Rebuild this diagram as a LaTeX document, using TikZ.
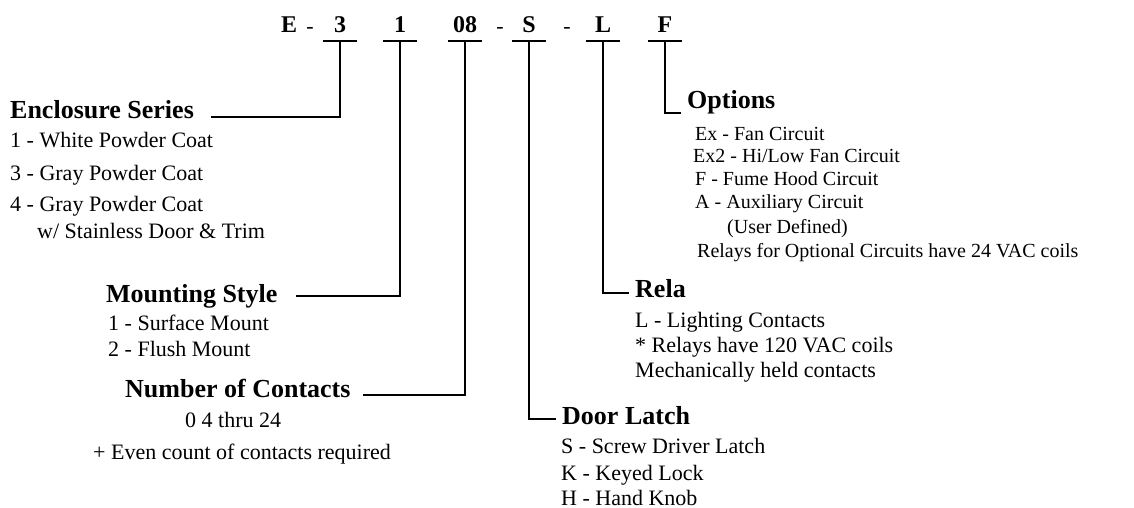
\documentclass[tikz,border=0pt]{standalone}
\usepackage{fontspec}
\setmainfont{Liberation Serif}
\usetikzlibrary{positioning}

\tikzset{
  code/.style={anchor=base, inner sep=0pt, font=\fontsize{24}{26}\selectfont\bfseries},
  dashchar/.style={anchor=base, inner sep=0pt, font=\fontsize{22}{24}\selectfont},
  head/.style={anchor=base west, inner sep=0pt, font=\fontsize{26}{28}\selectfont\bfseries},
  item/.style={anchor=base west, inner sep=0pt, font=\fontsize{22}{24}\selectfont},
  small/.style={anchor=base west, inner sep=0pt, font=\fontsize{20}{22}\selectfont},
  wire/.style={line width=2.6pt, line cap=rect}
}

\begin{document}
\begin{tikzpicture}[x=1pt, y=-1pt]
		\useasboundingbox (0,0) rectangle (1134,508);
		% part number
		\node[code] (cE) at (289, 33) {E};
		\node[dashchar] (d1) at (310, 34) {-};
		\node[code] (c3) at (340, 33) {3};
		\node[code] (c1) at (400, 33) {1};
		\node[code] (c08) at (465, 33) {08};
		\node[dashchar] (d2) at (500, 34) {-};
		\node[code] (cS) at (529, 33) {S};
		\node[dashchar] (d3) at (567, 34) {-};
		\node[code] (cL) at (603, 33) {L};
		\node[code] (cF) at (665, 33) {F};
		\foreach \c in {c3, c1, c08, cS, cL, cF} {
			\coordinate (\c-t) at ([yshift=-8pt]\c.base);
			\draw[wire] ([xshift=-16pt]\c-t) -- ([xshift=16pt]\c-t);
		}

		% enclosure series
		\node[head] (encl) at (10, 118) {Enclosure Series};
		\node[item] (encl1) at (10, 147) {1 - White Powder Coat};
		\node[item] (encl3) at (10, 180) {3 - Gray Powder Coat};
		\node[item] (encl4) at (10, 211) {4 - Gray Powder Coat};
		\node[item] (encl4b) at (37, 238) {w/ Stainless Door \& Trim};
		\draw[wire] (c3-t) |- ([xshift=18pt, yshift=1pt]encl.base east);

		% mounting style
		\node[head] (mount) at (106, 302) {Mounting Style};
		\node[item] (mount1) at (108, 330) {1 - Surface Mount};
		\node[item] (mount2) at (108, 356) {2 - Flush Mount};
		\draw[wire] (c1-t) |- ([xshift=20pt, yshift=6pt]mount.base east);

		% number of contacts
		\node[head] (num) at (125, 397) {Number of Contacts};
		\node[item] (num1) at (185, 427) {0 4 thru 24};
		\node[item] (num2) at (93, 459) {+ Even count of contacts required};
		\draw[wire] (c08-t) |- ([xshift=14pt, yshift=2pt]num.base east);

		% door latch
		\node[head] (door) at (562, 424) {Door Latch};
		\node[item] (doorS) at (561, 453) {S - Screw Driver Latch};
		\node[item] (doorK) at (561, 480) {K - Keyed Lock};
		\node[item] (doorH) at (561, 505) {H - Hand Knob};
		\draw[wire] (cS-t) |- ([xshift=-7pt, yshift=5pt]door.base west);

		% relay
		\node[head] (relay) at (635, 297) {Rela};
		\node[item] (relayL) at (635, 327) {L - Lighting Contacts};
		\node[item] (relay2) at (635, 352) {* Relays have 120 VAC coils};
		\node[item] (relay3) at (635, 377) {Mechanically held contacts};
		\draw[wire] (cL-t) |- ([xshift=-7pt, yshift=4pt]relay.base west);

		% options
		\node[head] (opt) at (687, 109) {Options};
		\node[small] (optEx) at (695, 140) {Ex - Fan Circuit};
		\node[small] (optEx2) at (693, 162) {Ex2 - Hi/Low Fan Circuit};
		\node[small] (optF) at (695, 185) {F - Fume Hood Circuit};
		\node[small] (optA) at (695, 208) {A - Auxiliary Circuit};
		\node[small] (optU) at (727, 233) {(User Defined)};
		\node[small] (optR) at (697, 257) {Relays for Optional Circuits have 24 VAC coils};
		\draw[wire] (cF-t) |- ([xshift=-7pt, yshift=-4pt]opt.base west);
\end{tikzpicture}
\end{document}
